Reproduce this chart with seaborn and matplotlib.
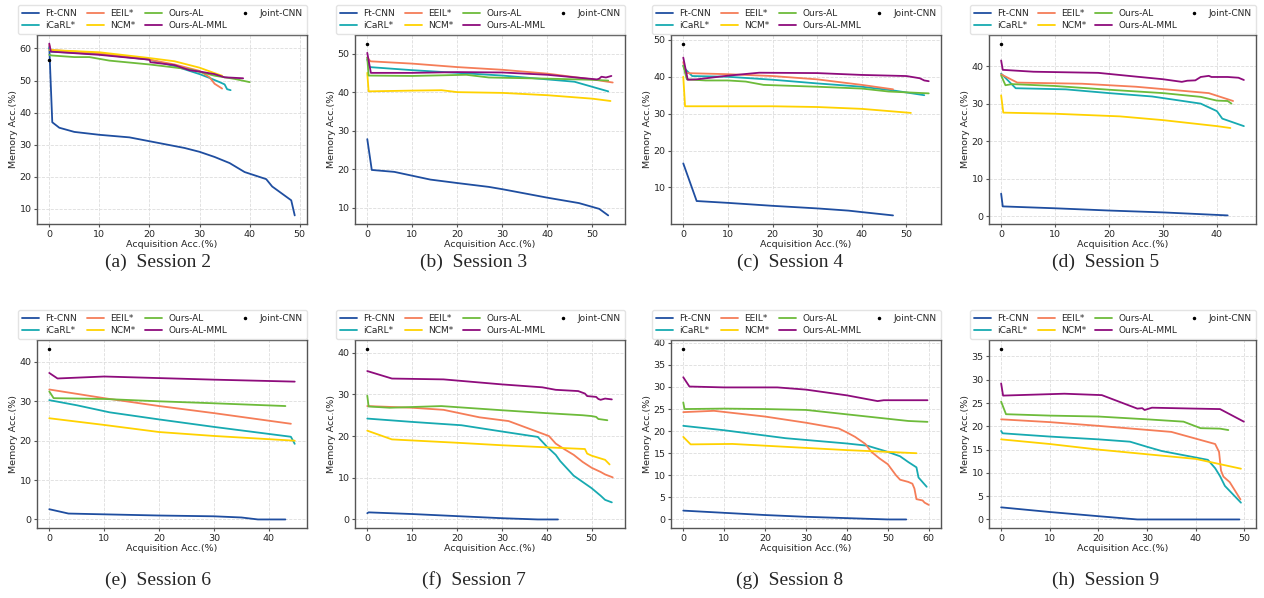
import numpy as np
import pandas as pd
import seaborn as sns
import matplotlib.pyplot as plt

methods = ["Ft-CNN", "iCaRL*", "EEIL*", "NCM*", "Ours-AL", "Ours-AL-MML"]
colors = ["#1f4ea0", "#17aab1", "#f57d58", "#ffd200", "#6dbb3a", "#8e0c7c"]
captions = ["(a)  Session 2", "(b)  Session 3", "(c)  Session 4", "(d)  Session 5",
            "(e)  Session 6", "(f)  Session 7", "(g)  Session 8", "(h)  Session 9"]

# each curve: list of (acquisition acc, memory acc) points
session2 = {
    "Ft-CNN": [(0, 60.5), (0.6, 37), (2, 35.3), (5, 34), (10, 33.1), (16, 32.3), (20, 31.1), (27, 29),
               (30, 27.8), (33, 26.2), (36, 24.3), (39, 21.5), (43.3, 19.3), (44.5, 17), (48.3, 12.7), (49, 8)],
    "iCaRL*": [(0, 60), (0.3, 59), (10, 58.2), (20, 56.5), (25, 54.5), (30, 52), (32, 50.8), (34, 49.5),
               (35, 48.8), (35.5, 47.3), (36.2, 47)],
    "EEIL*": [(0, 61), (0.3, 59.5), (10, 58.5), (20, 56.5), (25, 55), (30, 53), (32, 51), (33, 49),
              (34.5, 47.5)],
    "NCM*": [(0, 59.5), (10, 58.8), (20, 57), (25, 56), (30, 54), (33, 52.3), (34.5, 51.5)],
    "Ours-AL": [(0, 58), (0.5, 57.8), (5, 57.3), (8, 57.3), (12, 56.2), (20, 55), (28, 53.5), (33, 51.5),
                (37, 50.5), (40, 49.5)],
    "Ours-AL-MML": [(0, 61.5), (0.3, 59), (10, 58), (20, 56.5), (20.2, 55.7), (25, 54.8), (28, 53.2),
                    (30, 52.8), (33, 52), (35, 51), (38.7, 50.7)],
}
session3 = {
    "Ft-CNN": [(0, 27.8), (1, 19.8), (6, 19.3), (10, 18.3), (14, 17.3), (20, 16.4), (27, 15.4), (30, 14.8),
               (40, 12.6), (47, 11.2), (51.5, 9.7), (53.5, 8)],
    "iCaRL*": [(0, 48.5), (0.5, 46.5), (10, 45.7), (20, 45), (30, 44.3), (40, 43.3), (46, 42.7), (53.5, 40.2)],
    "EEIL*": [(0, 49), (0.7, 48), (10, 47.4), (20, 46.5), (30, 45.8), (40, 44.8), (50, 43.3), (54.5, 42.5)],
    "NCM*": [(0, 45), (0.3, 40.2), (10, 40.4), (16.5, 40.5), (20, 40), (30, 39.8), (40, 39.2), (50, 38.3),
             (54, 37.7)],
    "Ours-AL": [(0, 49), (0.3, 44.3), (10, 44.2), (22, 44.5), (27, 43.8), (40, 43.5), (50, 43.2), (53.5, 43)],
    "Ours-AL-MML": [(0, 50.2), (0.8, 45), (10, 45), (20, 45.2), (30, 45.1), (40, 44.5), (51, 43.3),
                    (51.5, 43.5), (52, 44), (53, 43.8), (54.2, 44.2)],
}
session4 = {
    "Ft-CNN": [(0, 16.5), (3, 6.3), (10, 5.8), (20, 5), (30, 4.3), (37, 3.7), (40, 3.3), (47, 2.4)],
    "iCaRL*": [(0, 43), (0.5, 42), (2, 40.2), (10, 40), (20, 39.2), (30, 38.2), (40, 37.3), (47, 36.3),
               (54, 35)],
    "EEIL*": [(0, 44), (0.5, 41), (10, 40.7), (20, 40.2), (30, 39.3), (40, 37.8), (47, 36.6)],
    "NCM*": [(0, 40), (0.4, 32), (10, 32), (20, 32), (30, 31.8), (40, 31.3), (51, 30.2)],
    "Ours-AL": [(0, 43), (0.8, 39.3), (5, 39), (10, 39), (14, 38.7), (18, 37.8), (30, 37.3), (40, 36.8),
                (46, 36), (55, 35.5)],
    "Ours-AL-MML": [(0, 45.2), (1, 39.2), (3, 39.3), (10, 40.3), (17, 41.1), (30, 41), (40, 40.5),
                    (50, 40.2), (53, 39.6), (54, 39), (55, 38.8)],
}
session5 = {
    "Ft-CNN": [(0, 6), (0.3, 2.6), (10, 2.1), (20, 1.5), (30, 1), (42, 0.2)],
    "iCaRL*": [(0, 38), (2.7, 34.1), (12, 33.8), (20, 32.8), (28, 31.9), (37, 30), (40, 28), (41, 26),
               (45, 24)],
    "EEIL*": [(0, 37.8), (3, 35.6), (15, 35.3), (25, 34.5), (38.5, 32.8), (43, 30.7)],
    "NCM*": [(0, 32.2), (0.4, 27.6), (10, 27.3), (22, 26.6), (30, 25.6), (40, 24), (42.5, 23.5)],
    "Ours-AL": [(0, 37.5), (0.8, 34.9), (2, 35.2), (10, 34.7), (20, 33.7), (30, 32.8), (37, 31.8),
                (40, 30.8), (42, 30.7), (42.7, 30)],
    "Ours-AL-MML": [(0, 41.5), (0.3, 39), (6, 38.5), (18, 38.2), (25, 37.2), (30, 36.5), (33.5, 35.8),
                    (34.5, 36.1), (36, 36.2), (37, 37.1), (38.5, 37.4), (39, 37.1), (42, 37.1), (44, 36.9),
                    (45, 36.3)],
}
session6 = {
    "Ft-CNN": [(0, 2.6), (3.5, 1.5), (10, 1.3), (20, 1), (30, 0.8), (35, 0.5), (38, 0), (43, 0)],
    "iCaRL*": [(0, 30.3), (5, 29), (11, 27.2), (20, 25.4), (30, 23.5), (44, 21), (44.7, 19.2)],
    "EEIL*": [(0, 33), (10, 30.8), (20, 28.8), (30, 27), (44, 24.3)],
    "NCM*": [(0, 25.7), (10, 24), (20, 22.2), (30, 21.2), (44.7, 20)],
    "Ours-AL": [(0, 32.5), (0.8, 30.8), (10, 30.6), (20, 30), (30, 29.5), (43, 28.8)],
    "Ours-AL-MML": [(0, 37.2), (1.5, 35.8), (10, 36.3), (20, 35.9), (30, 35.5), (44.7, 35)],
}
session7 = {
    "Ft-CNN": [(0, 1.5), (0.3, 1.7), (10, 1.3), (20, 0.8), (30, 0.3), (38, 0), (42.5, 0)],
    "iCaRL*": [(0, 24.2), (10, 23.4), (21, 22.6), (30, 21.1), (38, 19.8), (40, 17.5), (42, 15.5), (43, 14),
               (46, 10.5), (48, 9), (50, 7.5), (52, 5.7), (53, 4.7), (54.5, 4.1)],
    "EEIL*": [(0, 27.2), (10, 26.8), (17, 26.3), (25, 24.5), (31.5, 23.6), (38, 21), (40.5, 20), (42, 18.2),
              (44, 16.8), (46, 15.5), (48, 13.8), (50, 12.4), (52, 11.4), (53, 10.8), (54.7, 10.1)],
    "NCM*": [(0, 21.3), (5.5, 19.2), (20, 18.4), (30, 17.8), (40, 17.3), (48.5, 16.9), (49, 15.8),
             (50, 15.3), (53, 14.3), (54, 13.2)],
    "Ours-AL": [(0, 29.7), (0.3, 27.1), (5, 26.8), (16.5, 27.2), (30, 26.2), (40, 25.5), (48, 25), (49, 24.9),
                (50, 24.8), (51, 24.6), (51.5, 24.1), (53.5, 23.8)],
    "Ours-AL-MML": [(0, 35.6), (5.5, 33.8), (17, 33.6), (30, 32.4), (39, 31.7), (42, 31.1), (47, 30.8),
                    (48.5, 30.2), (49, 29.6), (51, 29.4), (51.5, 28.9), (52, 28.7), (53, 29), (54.5, 28.8)],
}
session8 = {
    "Ft-CNN": [(0, 2), (10, 1.5), (20, 1), (30, 0.6), (40, 0.3), (50, 0), (54.5, 0)],
    "iCaRL*": [(0, 21.2), (10, 20.2), (20, 19), (25, 18.4), (30, 18), (40, 17.2), (45, 16.7), (50, 15.3),
               (53, 14.3), (55, 13), (57, 11.8), (57.5, 9.5), (59.5, 7.4)],
    "EEIL*": [(0, 24.3), (7.5, 24.6), (20, 23.3), (30, 21.9), (38, 20.6), (40, 19.7), (42, 18.7), (44.5, 17.1),
              (46, 15.3), (48, 13.8), (50, 12.5), (52, 10), (53, 9), (55, 8.5), (56, 8.1), (56.5, 7), (57, 4.6),
              (58.5, 4.3), (59, 3.8), (60, 3.3)],
    "NCM*": [(0, 18.7), (1.8, 17), (12, 17.1), (20, 16.7), (30, 16.2), (40, 15.7), (50, 15.3), (57, 15)],
    "Ours-AL": [(0, 26.5), (0.3, 25), (10, 25.1), (20, 25), (30, 24.8), (40, 23.8), (50, 22.8), (55, 22.3),
                (59.7, 22.1)],
    "Ours-AL-MML": [(0, 32.2), (1.5, 30.1), (10, 29.9), (23, 29.9), (30, 29.4), (40, 28.1), (47.5, 26.8),
                    (49, 27), (55, 27), (59.7, 27)],
}
session9 = {
    "Ft-CNN": [(0, 2.6), (10, 1.6), (20, 0.7), (28, 0), (49, 0)],
    "iCaRL*": [(0, 19), (0.3, 18.5), (10, 17.8), (20, 17.2), (26.5, 16.7), (30, 15.6), (33, 14.7), (40, 13.3),
               (42.5, 12.8), (44, 11), (45, 9.3), (46, 7.2), (49.3, 3.6)],
    "EEIL*": [(0, 21.5), (10, 20.9), (20, 20.1), (35, 18.8), (44, 16.2), (44.8, 14.5), (45.2, 10.5),
              (45.7, 9.2), (47, 8), (49.2, 4.3)],
    "NCM*": [(0, 17.2), (10, 16.2), (20, 15), (30, 14), (40, 13), (49.3, 10.9)],
    "Ours-AL": [(0, 25.3), (1, 22.6), (10, 22.3), (20, 22.1), (30, 21.5), (37.5, 21), (41, 19.6), (45, 19.5),
                (46.7, 19.2)],
    "Ours-AL-MML": [(0, 29.2), (0.4, 26.6), (13, 27), (20.7, 26.7), (28, 23.8), (29, 23.9), (29.5, 23.5),
                    (31, 24), (40, 23.8), (45, 23.7), (49.9, 21)],
}
joint_cnn = [56.5, 52.6, 49.0, 46.0, 43.4, 41.0, 38.7, 36.7]

sessions = [session2, session3, session4, session5, session6, session7, session8, session9]

sns.set_style("whitegrid", {"grid.linestyle": "--", "grid.color": "#dddddd",
                            "axes.edgecolor": "#555555"})
plt.rcParams["font.family"] = ["DejaVu Sans"]

W, H = 1264, 598
fig = plt.figure(figsize=(W / 100, H / 100), dpi=100)

lefts = [37, 355, 671, 989]
widths = [270, 270, 270, 267]
tops = [35, 340]
heights = [189, 188]
cap_y = [262, 580]

for i, sess in enumerate(sessions):
    r, c = divmod(i, 4)
    ax = fig.add_axes([lefts[c] / W, 1 - (tops[r] + heights[r]) / H, widths[c] / W, heights[r] / H])
    for m, col in zip(methods, colors):
        df = pd.DataFrame(sess[m], columns=["acq", "mem"])
        sns.lineplot(data=df, x="acq", y="mem", ax=ax, color=col, lw=1.3,
                     estimator=None, sort=False, label=m)
    ax.plot([0], [joint_cnn[i]], "k.", ms=3, label="Joint-CNN")
    ax.set_xlabel("Acquisition Acc.(%)", fontsize=6.8, labelpad=1)
    ax.set_ylabel("Memory Acc.(%)", fontsize=6.8, labelpad=1)
    ax.tick_params(labelsize=6.8, pad=1.5, length=2.5, left=True, bottom=True, color="#555555")
    ax.grid(True, lw=0.6)
    for s in ax.spines.values():
        s.set_linewidth(1.0)
    x0 = -19 / widths[c]
    leg = ax.legend(ncol=4, fontsize=6.5, loc="lower left", mode="expand",
                    bbox_to_anchor=(x0, 1.005, (widths[c] + 19) / widths[c], 0.17),
                    handlelength=1.9, handletextpad=0.7, borderpad=0.45, labelspacing=0.3,
                    numpoints=1, frameon=True, fancybox=True, edgecolor="#dddddd", borderaxespad=0)
    for line in leg.get_lines():
        line.set_linewidth(1.3)
    fig.text((158 + 316 * c) / W, 1 - cap_y[r] / H, captions[i], ha="center", va="center",
             fontsize=14, family="Liberation Serif")

fig.savefig("out.png", dpi=100)
